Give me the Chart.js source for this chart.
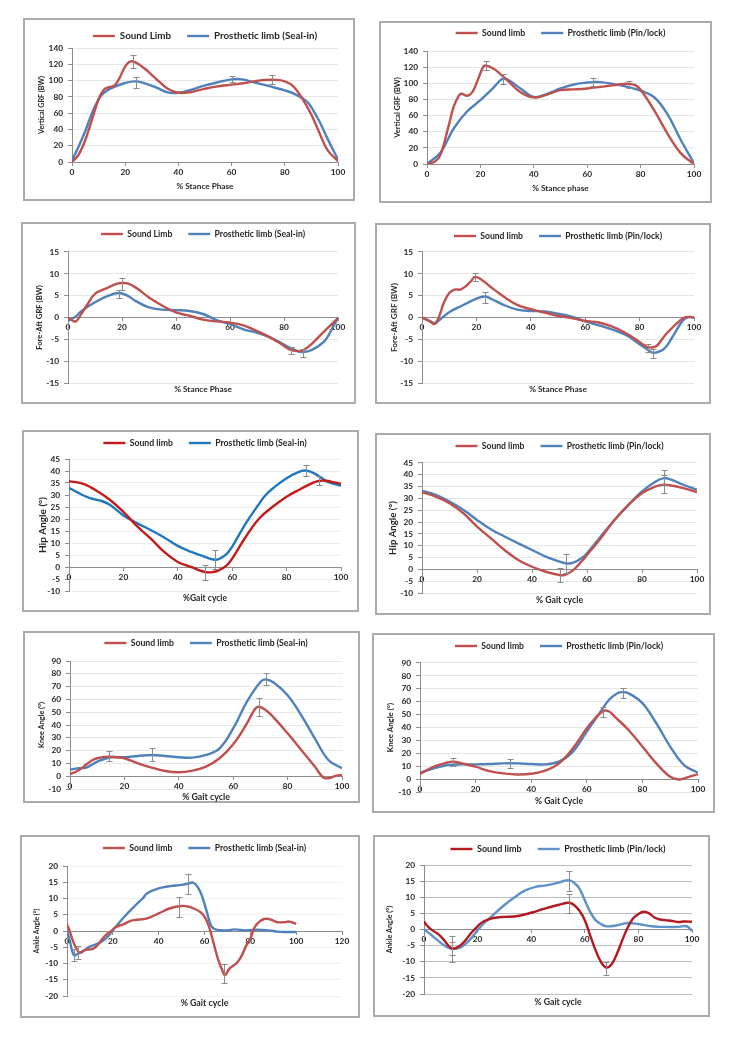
<!DOCTYPE html>
<html>
<head>
<meta charset="utf-8">
<script src="https://cdn.jsdelivr.net/npm/chart.js"></script>
<style>
html,body{margin:0;padding:0;background:#fff;}
body{width:729px;height:1042px;position:relative;overflow:hidden;}
.frame{position:absolute;box-sizing:border-box;border:2px solid #ababab;}
canvas{position:absolute;}
</style>
</head>
<body>
<script>
// ---------------- Tick labels ----------------
const vgrfTicks = [0,20,40,60,80,100,120,140];
const faTicks = [-15,-10,-5,0,5,10,15];
const hipTicks = [-10,-5,0,5,10,15,20,25,30,35,40,45];
const kneeTicks = [-10,0,10,20,30,40,50,60,70,80,90];
const ankleTicks = [-20,-15,-10,-5,0,5,10,15,20];
const pctTicks = [0,20,40,60,80,100];
const pctTicks120 = [0,20,40,60,80,100,120];

// ---------------- Vertical GRF, Seal-in ----------------
const vgSealSoundX = [0,2.5,5,7.5,10,12,14,16,18,20,22,24,26,28,30,33,36,40,45,50,55,60,65,70,75,78,80,82,84,86,88,90,93,96,100];
const vgSealSoundY = [0,9,27,52,77,89,92,94,104,117.5,123.6,122,118,113,107,98,90,85,86,90,93,95,97,100,101,100.5,99,96,90,81,70,58,36,15,1];
const vgSealProsX = [0,2.5,5,7.5,10,12,15,20,24,28,32,36,40,44,50,55,60,64,68,72,76,80,84,88,90,93,96,100];
const vgSealProsY = [2,19,38,60,77,85,91,97,99,96,91,85.5,85,88,94,98,101.5,101.5,98,95,91.5,88,83,75,67,50,29,3];
const vgSealSoundErr = [[23,115,131],[75,96,107]];
const vgSealProsErr = [[24,91,105],[60,98,106]];

// ---------------- Vertical GRF, Pin/lock ----------------
const vgPinSoundX = [0,3,5,8,10,12,13,15,17,19,21,22,25,28,30,35,40,45,50,55,60,65,70,75,78,80,85,90,95,100];
const vgPinSoundY = [0,3,11,46,71,85,87,84.5,89,104,120,122,118,110,104,89,82.5,86,91.5,92.4,93.6,95.6,97.7,99.5,97.7,92,67,38,13.5,0];
const vgPinProsX = [0,5,10,15,20,25,28,30,35,40,45,50,55,60,62,65,70,75,80,85,90,95,100];
const vgPinProsY = [0,14,44,65,79,95,105,105,93.6,83,87,93.6,98.5,101,101.5,101.5,99,95.6,91,83,62,30,1];
const vgPinSoundErr = [[22,116,128],[75.5,94,103]];
const vgPinProsErr = [[28.5,99,112],[62,97,106]];

// ---------------- Fore-Aft GRF, Seal-in ----------------
const faSealSoundX = [0,2,3,5,7,10,15,18,20,22,25,30,35,40,45,50,55,60,65,70,75,80,82,85,87,90,95,100];
const faSealSoundY = [0,-0.8,-0.9,0.9,2.8,5.4,6.9,7.7,7.9,7.8,6.9,4.6,2.7,1.15,0.4,-0.5,-0.9,-1.15,-1.8,-3.1,-4.6,-6.5,-7.3,-7.7,-7.5,-6.2,-3.1,-0.15];
const faSealProsX = [0,3,5,10,15,19,22,25,30,35,40,45,50,55,60,65,70,75,80,85,87,90,95,98,100];
const faSealProsY = [-0.8,0.3,1.5,3.5,5,5.6,5,3.8,2.3,1.8,1.7,1.5,0.8,-0.6,-1.5,-2.7,-3.5,-4.6,-6.2,-7.7,-7.9,-7.5,-5.4,-2.3,-0.2];
const faSealSoundErr = [[20,6.2,9.1],[82.5,-8.4,-6.8]];
const faSealProsErr = [[19,4.5,6.2],[87,-9,-7.2]];

// ---------------- Fore-Aft GRF, Pin/lock ----------------
const faPinSoundX = [0,3,4.5,6,8,10,12,14,16,18,19.5,22,25,30,35,40,45,50,55,60,65,70,75,80,83,86,88,90,95,97,100];
const faPinSoundY = [0,-0.9,-1.5,-0.2,3.3,5.6,6.4,6.4,7.1,8.3,9.3,8.6,7.1,4.8,2.9,1.9,1.15,0.4,-0.15,-0.8,-1.15,-2.1,-3.6,-5.6,-6.8,-6.6,-5.2,-3.6,-0.6,0.1,0];
const faPinProsX = [0,3,5,6,10,15,20,23,25,30,35,40,45,50,55,60,65,70,75,80,83,85,88,90,93,96,98,100];
const faPinProsY = [0,-0.9,-1.3,-0.8,1.2,2.8,4.3,4.8,4.4,2.9,1.8,1.5,1.4,0.85,0.2,-0.9,-1.8,-2.8,-4,-6.1,-7.4,-8.1,-7.6,-6.5,-3.5,-0.6,0.1,0];
const faPinSoundErr = [[19.5,8.3,10.3],[83,-8,-6.1]];
const faPinProsErr = [[23,3.4,5.8],[85,-9.2,-7.3]];

// ---------------- Hip angle, Seal-in ----------------
const hipSealSoundX = [0,5,8,10,15,20,25,30,35,40,45,50,53,55,58,60,65,70,75,80,85,90,93,96,100];
const hipSealSoundY = [35.8,34.7,33.2,31.9,28,23,17,11.9,6.3,2.1,0,-2.1,-2.1,-1.4,0.7,3.5,12.6,20.3,25.2,29.3,32.4,35.3,36,35.7,34.6];
const hipSealProsX = [0,5,8,12,15,20,25,30,35,40,45,50,53,55,58,60,65,70,72,75,80,85,87,90,95,100];
const hipSealProsY = [33,30,28.6,27.5,25.9,21.5,18.3,15.4,12.3,8.8,6.3,4.2,3.1,3.3,5.5,8.5,18.2,26.5,29.6,32.8,37,39.8,40.2,39.1,35.6,33.8];
const hipSealSoundErr = [[50,-5.5,1],[92,34,38]];
const hipSealProsErr = [[53.5,-1,7],[87,38,42.5]];

// ---------------- Hip angle, Pin/lock ----------------
const hipPinSoundX = [0,5,10,15,20,25,30,35,40,45,50,52,55,58,60,65,70,75,80,85,88,90,95,100];
const hipPinSoundY = [32.7,30.8,28,23.8,18.1,13.2,8.2,4,1.1,-1,-2.4,-2.3,-0.3,3.3,6.1,13.2,20.9,27.2,32.2,35.1,35.8,35.6,34.4,32.7];
const hipPinProsX = [0,5,10,15,20,25,30,35,40,45,50,53,55,58,60,65,70,75,80,85,88,90,95,100];
const hipPinProsY = [33.2,31.5,28.7,25.2,20.9,17,13.9,11,8.2,5.4,3.3,2.5,2.8,4.7,6.8,13.9,20.9,27.2,33,37.2,38.6,38.2,35.8,33.7];
const hipPinSoundErr = [[50,-5.5,0.4],[88,32.3,40.1]];
const hipPinProsErr = [[52.5,-1.5,6.5],[88,35.6,41.9]];

// ---------------- Knee angle, Seal-in ----------------
const kneeSealSoundX = [0,3,5,8,10,14,17,20,25,30,35,40,45,50,55,60,65,67,69,72,75,80,85,90,93,95,98,100];
const kneeSealSoundY = [1.5,4.4,7.5,12.2,14,15.3,14.8,14,10.1,6.7,4.1,3.1,4.4,7.5,14,24.9,41,49,54.2,51.6,45.6,33.5,20.5,7.5,-0.8,-1.6,0.5,1];
const kneeSealProsX = [0,3,6,10,15,20,25,30,35,40,45,50,55,60,65,70,72,75,80,85,90,95,100];
const kneeSealProsY = [5,6.2,6.7,11.4,14.8,14.8,15.8,16.6,15.8,14.8,14.5,16.6,21.8,37.3,58,73.6,75.6,73,63.2,47.7,29.6,12.7,6.2];
const kneeSealSoundErr = [[14.5,12,20],[69.5,47,61]];
const kneeSealProsErr = [[30,12,22],[72,71,81]];

// ---------------- Knee angle, Pin/lock ----------------
const kneePinSoundX = [0,5,10,12,15,20,25,30,35,40,45,50,55,60,63,66,68,70,75,80,85,90,93,95,100];
const kneePinSoundY = [4,9.6,13,13.5,12.2,9.6,6.2,4.4,3.6,4.1,6.5,12.2,23.9,39.4,47.2,52.9,52.4,48.5,38.1,25.2,12.2,1.8,-0.3,0.5,3.9];
const kneePinProsX = [0,5,10,15,20,25,30,35,40,45,50,55,60,65,68,71,73,75,80,85,90,95,100];
const kneePinProsY = [5,8.3,10.9,11.4,11.4,11.7,12.2,12.2,11.7,11.4,13.5,21.3,36.8,52.4,61.5,66.6,67.4,66.6,58.9,43.3,25.2,10.9,4.9];
const kneePinSoundErr = [[12,10,16],[66,48,56]];
const kneePinProsErr = [[32.5,8.5,15.5],[73,62.5,71]];

// ---------------- Ankle angle, Seal-in ----------------
const ankSealSoundX = [0,1,3,5,6,8,11,13,15,17,19,21,25,28,30,35,40,45,50,53,55,58,60,62,64,66,68,69,71,74,76,78,80,82,84,86,88,90,92,95,97,100];
const ankSealSoundY = [2,0.3,-3.8,-6.4,-6.6,-5.8,-5.6,-4.6,-2.8,-1.2,-0.2,1.1,2.2,3.2,3.4,3.9,5.4,7,7.7,7.5,7,5.9,4.4,1.3,-3.8,-8.9,-12.5,-13.5,-11.5,-9.9,-7.9,-4.8,-2.3,1.3,2.9,3.7,3.7,3.2,2.7,2.7,2.9,2.2];
const ankSealProsX = [0,1,3,5,7,10,12,15,17,19,21,25,30,33,35,40,45,50,53,55,57,59,61,63,65,70,73,78,83,88,92,95,100];
const ankSealProsY = [0,-2.3,-7.4,-6.9,-6.2,-4.8,-4.3,-3.3,-2.3,-0.7,1.1,4.4,8,10,11.6,13.1,13.8,14.2,14.6,14.9,13.6,10.6,5.9,1.5,0.4,0.2,0.5,0.2,0.4,0.2,-0.2,-0.3,-0.3];
const ankSealSoundErr = [[5,-8.5,-4.5],[49,4.2,10.5],[68.5,-16,-10]];
const ankSealProsErr = [[3,-9.2,-5.5],[53,11.5,17.5]];

// ---------------- Ankle angle, Pin/lock ----------------
const ankPinSoundX = [0,1,3,5,7,9,10.5,12,14,16,18,20,22,25,28,30,35,40,45,50,54,56,58,60,62,64,66,68,70,72,74,76,78,80,82,84,86,88,90,93,95,97,100];
const ankPinSoundY = [2.5,1.3,-0.2,-1.2,-2.8,-4.9,-5.9,-5.7,-4.6,-2.8,-0.7,1,2.4,3.4,3.8,3.9,4.2,5.2,6.5,7.6,8.3,7.6,5.8,2.9,-1.8,-6.4,-10,-11.8,-10.8,-7.5,-3.3,0.6,3.4,4.8,5.5,5,3.7,3.1,2.9,2.6,2.3,2.5,2.4];
const ankPinProsX = [0,2,5,8,10,12,14,17,20,23,25,30,35,38,42,45,50,54,56,58,60,62,64,66,68,72,76,80,85,90,95,98,100];
const ankPinProsY = [0,-1.2,-3.3,-5.2,-5.9,-5.9,-5.4,-3.3,-0.2,2.4,3.9,7.6,10.7,12.2,13.3,13.6,14.5,15.3,14.5,12.7,9.1,5.5,2.9,1.7,1,1.3,2,1.7,1,0.8,0.8,1,-0.4];
const ankPinSoundErr = [[10.5,-8,-4],[54,5,11],[68,-14,-10]];
const ankPinProsErr = [[10.5,-10,-2],[54,12,18]];

// ---------------- Panel layout (positions / styles) ----------------
const RED = '#C0504D', BLUE = '#4F81BD';
const panels = [
  {box:[23,18,332,183], area:[72,338,48,162], legendY:36, yTitleX:42, xTitleY:186,
   yTitle:'Vertical GRF (BW)', xTitle:'% Stance Phase', labels:['Sound Limb','Prosthetic limb (Seal-in)'],
   yTicks:vgrfTicks, xTicks:pctTicks,
   series:[[vgSealSoundX,vgSealSoundY,vgSealSoundErr],[vgSealProsX,vgSealProsY,vgSealProsErr]],
   colors:[RED,BLUE], grid:'#e6e6e6', fs:{legend:9.8, tick:8.3, ytitle:7.2, xtitle:8.2}},
  {box:[379,21,333,182], area:[427,694,51,164], legendY:33, yTitleX:398, xTitleY:188,
   yTitle:'Vertical GRF (BW)', xTitle:'% Stance phase', labels:['Sound limb','Prosthetic limb (Pin/lock)'],
   yTicks:vgrfTicks, xTicks:pctTicks,
   series:[[vgPinSoundX,vgPinSoundY,vgPinSoundErr],[vgPinProsX,vgPinProsY,vgPinProsErr]],
   colors:[RED,BLUE], grid:'#e6e6e6', fs:{legend:8.7, tick:8.3, ytitle:7.5, xtitle:8.2}},
  {box:[21,222,335,182], area:[68,338,252,383], legendY:234, yTitleX:40, xTitleY:389,
   yTitle:'Fore-Aft GRF (BW)', xTitle:'% Stance Phase', labels:['Sound Limb','Prosthetic limb (Seal-in)'],
   yTicks:faTicks, xTicks:pctTicks,
   series:[[faSealSoundX,faSealSoundY,faSealSoundErr],[faSealProsX,faSealProsY,faSealProsErr]],
   colors:[RED,BLUE], grid:'#e6e6e6', fs:{legend:8.6, tick:8.3, ytitle:7.7, xtitle:8.3}},
  {box:[375,223,336,181], area:[422,694,252,383], legendY:236, yTitleX:394, xTitleY:389,
   yTitle:'Fore-Aft GRF (BW)', xTitle:'% Stance Phase', labels:['Sound limb','Prosthetic limb (Pin/lock)'],
   yTicks:faTicks, xTicks:pctTicks,
   series:[[faPinSoundX,faPinSoundY,faPinSoundErr],[faPinProsX,faPinProsY,faPinProsErr]],
   colors:[RED,BLUE], grid:'#e6e6e6', fs:{legend:8.6, tick:8.3, ytitle:8.2, xtitle:8.3}},
  {box:[22,430,337,182], area:[69,341,459,591], legendY:443, yTitleX:43, xTitleY:598,
   yTitle:'Hip Angle (°)', xTitle:'%Gait cycle', labels:['Sound limb','Prosthetic limb (Seal-in)'],
   yTicks:hipTicks, xTicks:pctTicks,
   series:[[hipSealSoundX,hipSealSoundY,hipSealSoundErr],[hipSealProsX,hipSealProsY,hipSealProsErr]],
   colors:['#C41A1A','#1F78BE'], grid:'#ebebeb', fs:{legend:8.7, tick:8.3, ytitle:10, xtitle:8.5}},
  {box:[375,433,336,182], area:[422,697,463,593], legendY:446, yTitleX:393, xTitleY:600,
   yTitle:'Hip Angle (°)', xTitle:'% Gait cycle', labels:['Sound limb','Prosthetic limb (Pin/lock)'],
   yTicks:hipTicks, xTicks:pctTicks,
   series:[[hipPinSoundX,hipPinSoundY,hipPinSoundErr],[hipPinProsX,hipPinProsY,hipPinProsErr]],
   colors:[RED,BLUE], grid:'#e6e6e6', fs:{legend:8.6, tick:8.3, ytitle:9.6, xtitle:8.7}},
  {box:[23,631,337,172], area:[70,342,661,789], legendY:643, yTitleX:42, xTitleY:797,
   yTitle:'Knee Angle (°)', xTitle:'% Gait cycle', labels:['Sound limb','Prosthetic limb (Seal-in)'],
   yTicks:kneeTicks, xTicks:pctTicks,
   series:[[kneeSealSoundX,kneeSealSoundY,kneeSealSoundErr],[kneeSealProsX,kneeSealProsY,kneeSealProsErr]],
   colors:[RED,BLUE], grid:'#e6e6e6', fs:{legend:8.7, tick:8.3, ytitle:7.3, xtitle:8.8}},
  {box:[372,633,343,180], area:[420,698,663,792], legendY:646, yTitleX:390, xTitleY:801,
   yTitle:'Knee Angle (°)', xTitle:'% Gait Cycle', labels:['Sound limb','Prosthetic limb (Pin/lock)'],
   yTicks:kneeTicks, xTicks:pctTicks,
   series:[[kneePinSoundX,kneePinSoundY,kneePinSoundErr],[kneePinProsX,kneePinProsY,kneePinProsErr]],
   colors:[RED,BLUE], grid:'#e6e6e6', fs:{legend:8.6, tick:8.3, ytitle:7.8, xtitle:8.6}},
  {box:[20,835,340,183], area:[67,342,866,996], legendY:848, yTitleX:37, xTitleY:1003,
   yTitle:'Ankle Angle (°)', xTitle:'% Gait cycle', labels:['Sound limb','Prosthetic limb (Seal-in)'],
   yTicks:ankleTicks, xTicks:pctTicks120,
   series:[[ankSealSoundX,ankSealSoundY,ankSealSoundErr],[ankSealProsX,ankSealProsY,ankSealProsErr]],
   colors:[RED,BLUE], grid:'#efefef', fs:{legend:8.7, tick:8.3, ytitle:6.8, xtitle:8.8}},
  {box:[373,835,337,182], area:[424,692,865,994], legendY:849, yTitleX:390, xTitleY:1002,
   yTitle:'Ankle Angle (°)', xTitle:'% Gait cycle', labels:['Sound limb','Prosthetic limb (Pin/lock)'],
   yTicks:ankleTicks, xTicks:pctTicks,
   series:[[ankPinSoundX,ankPinSoundY,ankPinSoundErr],[ankPinProsX,ankPinProsY,ankPinProsErr]],
   colors:['#B3191F','#5E91CB'], grid:'#bdbdbd', fs:{legend:9, tick:8.3, ytitle:7.2, xtitle:8.7}}
];

Chart.defaults.font.family = 'Lato, "Liberation Sans", sans-serif';
const TXT = '#262626', AXIS = '#8c8c8c', ERR = '#8a8a8a';
const LEG_PAD = 16;

function legendFix(h) {
  return {
    id: 'legendFix',
    afterInit(chart) {
      const lg = chart.legend;
      if (!lg) return;
      const orig = lg.fit;
      lg.fit = function () {
        const mw = this.maxWidth;
        this.maxWidth = mw + 400;
        orig.call(this);
        this.maxWidth = mw;
        this.width = mw;
        this.height = h;
      };
    }
  };
}

function errBars(lists) {
  return {
    id: 'errBars',
    afterDatasetsDraw(chart) {
      const {ctx, scales: {x, y}} = chart;
      ctx.save();
      ctx.strokeStyle = ERR;
      ctx.lineWidth = 1;
      lists.forEach(list => list.forEach(([xv, lo, hi]) => {
        const px = Math.round(x.getPixelForValue(xv)) + 0.5;
        const p1 = Math.round(y.getPixelForValue(lo)) + 0.5;
        const p2 = Math.round(y.getPixelForValue(hi)) + 0.5;
        ctx.beginPath();
        ctx.moveTo(px, p1); ctx.lineTo(px, p2);
        ctx.moveTo(px - 3, p1); ctx.lineTo(px + 3, p1);
        ctx.moveTo(px - 3, p2); ctx.lineTo(px + 3, p2);
        ctx.stroke();
      }));
      ctx.restore();
    }
  };
}

function buildPanel(p) {
  const [bx, by, bw, bh] = p.box;
  const frame = document.createElement('div');
  frame.className = 'frame';
  Object.assign(frame.style, {left: bx + 'px', top: by + 'px', width: bw + 'px', height: bh + 'px'});
  document.body.appendChild(frame);
  const cv = document.createElement('canvas');
  cv.width = bw; cv.height = bh;
  Object.assign(cv.style, {left: bx + 'px', top: by + 'px', width: bw + 'px', height: bh + 'px'});
  document.body.appendChild(cv);

  const L = p.area[0] - bx, R = p.area[1] - bx, T = p.area[2] - by, B = p.area[3] - by;
  const ylh = p.fs.ytitle * 1.2;
  const pl = p.yTitleX - bx - ylh / 2;
  const wy = L - pl;
  const pr = bw - R;
  const legTop = (p.legendY - by) - LEG_PAD - p.fs.legend / 2;
  const legH = T - legTop;
  const xlh = p.fs.xtitle * 1.2;
  const tpad = (p.xTitleY - by) - B - xlh / 2;
  const titleH = xlh + tpad;
  const pb = bh - B - titleH;

  const datasets = p.series.map((s, i) => ({
    label: p.labels[i],
    data: s[0].map((xv, k) => ({x: xv, y: s[1][k]})),
    borderColor: p.colors[i], backgroundColor: p.colors[i],
    pointBorderColor: p.colors[i], pointBackgroundColor: p.colors[i],
    borderWidth: 2.4, pointBorderWidth: 2.4, pointRadius: 0, pointHoverRadius: 0, pointHitRadius: 0,
    tension: 0.4, fill: false
  }));
  const yT = p.yTicks, xT = p.xTicks;
  new Chart(cv, {
    type: 'line',
    data: {datasets},
    options: {
      responsive: false, animation: false, events: [], devicePixelRatio: 1,
      layout: {padding: {left: pl, right: pr, top: legTop, bottom: pb}, autoPadding: false},
      plugins: {
        legend: {display: true, position: 'top', fullSize: false, align: 'center',
          labels: {usePointStyle: true, pointStyle: 'line', pointStyleWidth: 22, padding: LEG_PAD,
            font: {size: p.fs.legend, weight: 'bold'}, color: TXT}},
        title: {display: true, position: 'bottom', fullSize: false, text: p.xTitle,
          font: {size: p.fs.xtitle, weight: 'bold'}, color: TXT, padding: {top: tpad, bottom: 0}},
        tooltip: {enabled: false}
      },
      scales: {
        x: {type: 'linear', min: xT[0], max: xT[xT.length - 1], position: {y: 0},
          ticks: {stepSize: xT[1] - xT[0], font: {size: p.fs.tick, weight: 'bold'}, color: TXT, padding: 2, maxRotation: 0, autoSkip: false},
          grid: {drawOnChartArea: false, drawTicks: true, tickLength: 3, tickColor: AXIS},
          border: {display: true, color: AXIS, width: 1},
          afterFit(s) { s.height = 0; s.paddingLeft = 0; s.paddingRight = 0; s.paddingTop = 0; s.paddingBottom = 0; }},
        y: {type: 'linear', min: yT[0], max: yT[yT.length - 1], position: 'left',
          ticks: {stepSize: yT[1] - yT[0], font: {size: p.fs.tick, weight: 'bold'}, color: TXT, padding: 5, autoSkip: false},
          grid: {color: p.grid, drawTicks: true, tickLength: 4, tickColor: AXIS},
          border: {display: true, color: AXIS, width: 1},
          title: {display: true, text: p.yTitle, font: {size: p.fs.ytitle, weight: 'bold'}, color: TXT, padding: {top: 0, bottom: 0}},
          afterFit(s) { s.width = wy; s.paddingLeft = 0; s.paddingRight = 0; s.paddingTop = 0; s.paddingBottom = 0; }}
      }
    },
    plugins: [legendFix(legH), errBars(p.series.map(s => s[2]))]
  });
}

panels.forEach(buildPanel);
</script>
</body>
</html>
